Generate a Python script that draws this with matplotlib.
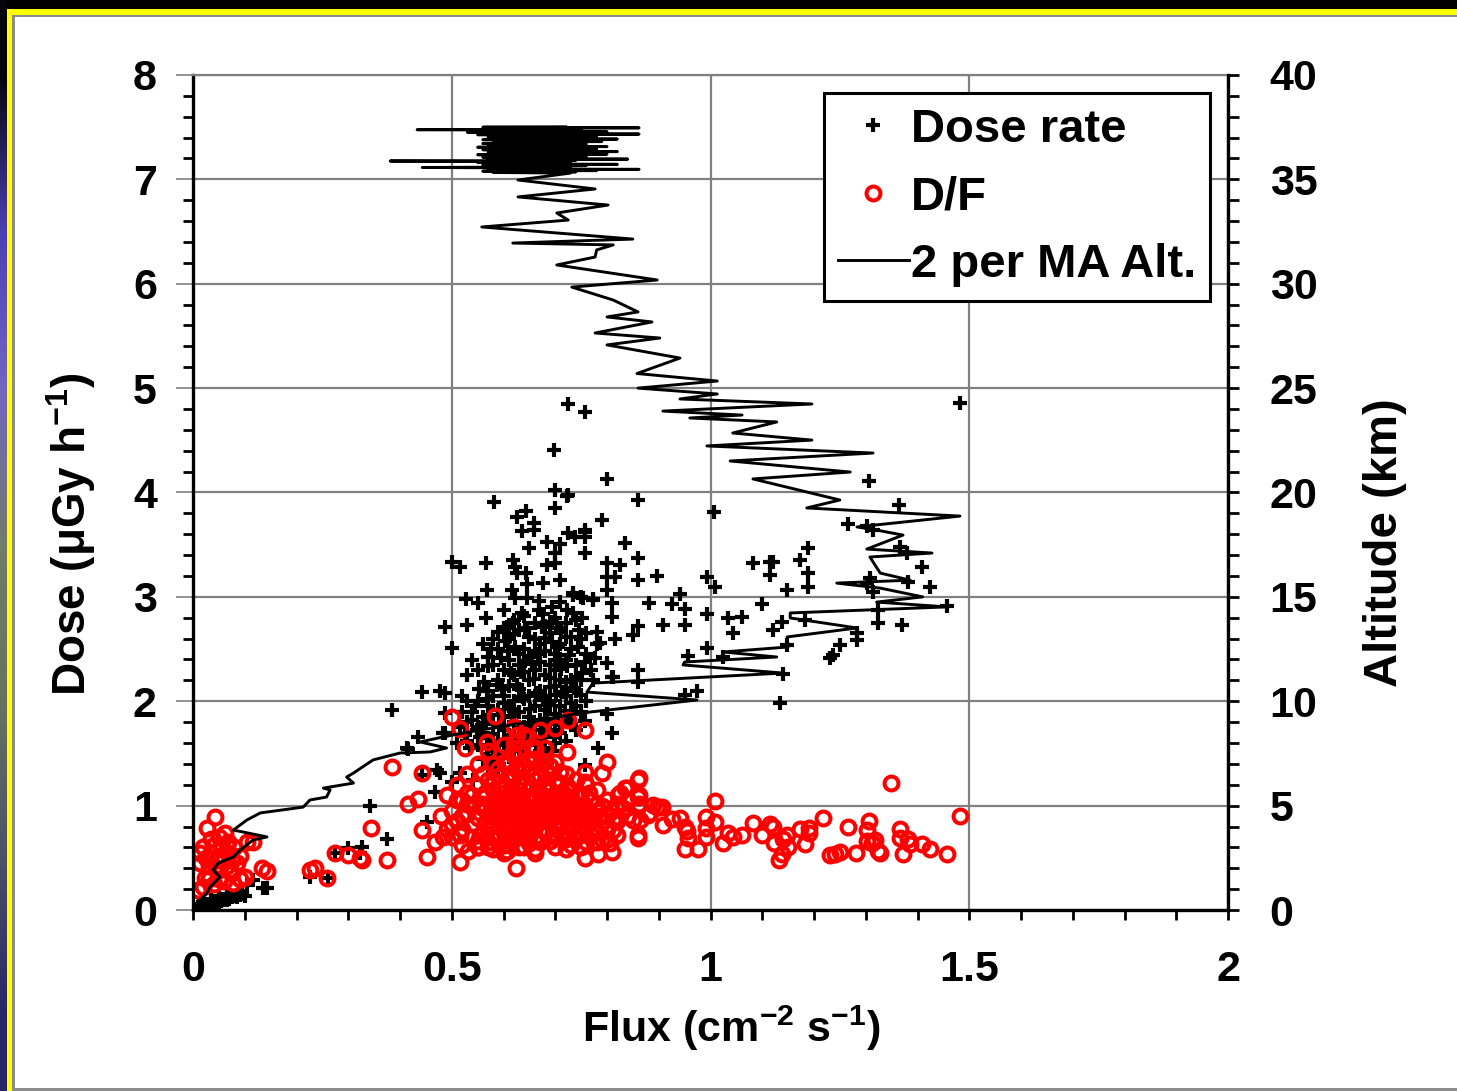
import matplotlib.pyplot as plt
import numpy as np
from matplotlib.patches import Rectangle

# ---- data ----
# dose rate (uGy/h) vs flux, near origin
dose_low = [(0.005, 0.01), (0.01, 0.02), (0.012, 0.04), (0.015, 0.03), (0.02, 0.03), (0.025, 0.05),
            (0.028, 0.06), (0.03, 0.05), (0.035, 0.06), (0.04, 0.07), (0.042, 0.09), (0.045, 0.08),
            (0.05, 0.08), (0.055, 0.09), (0.058, 0.11), (0.06, 0.10), (0.065, 0.10), (0.07, 0.11),
            (0.072, 0.14), (0.075, 0.12), (0.08, 0.13), (0.085, 0.12), (0.088, 0.16), (0.09, 0.14),
            (0.095, 0.15), (0.10, 0.13), (0.02, 0.08), (0.035, 0.10), (0.05, 0.13), (0.065, 0.15)]

# dose rate, main cluster
dose_cluster = [(0.53, 1.62), (0.55, 1.58), (0.56, 1.70), (0.57, 1.65), (0.58, 1.52), (0.58, 1.78),
                (0.59, 1.60), (0.60, 1.72), (0.60, 1.85), (0.61, 1.55), (0.61, 1.95), (0.62, 1.68),
                (0.62, 1.80), (0.63, 1.60), (0.63, 1.90), (0.64, 1.75), (0.64, 2.02), (0.65, 1.65),
                (0.65, 1.85), (0.66, 1.95), (0.66, 1.72), (0.67, 1.82), (0.67, 2.10), (0.68, 1.70),
                (0.68, 1.92), (0.69, 2.00), (0.69, 1.78), (0.70, 1.88), (0.70, 2.15), (0.71, 1.95),
                (0.71, 1.70), (0.72, 2.05), (0.72, 1.85), (0.73, 2.20), (0.73, 1.98), (0.74, 2.10),
                (0.54, 1.90), (0.55, 2.00), (0.56, 1.85), (0.57, 2.10), (0.57, 1.95), (0.58, 2.05),
                (0.59, 2.20), (0.59, 1.92), (0.60, 2.30), (0.60, 2.05), (0.61, 2.15), (0.61, 2.40),
                (0.62, 2.25), (0.62, 2.00), (0.63, 2.35), (0.63, 2.12), (0.64, 2.28), (0.64, 2.50),
                (0.65, 2.20), (0.65, 2.42), (0.66, 2.30), (0.66, 2.60), (0.67, 2.38), (0.67, 2.55),
                (0.68, 2.25), (0.68, 2.48), (0.69, 2.35), (0.69, 2.65), (0.70, 2.45), (0.70, 2.30),
                (0.71, 2.55), (0.71, 2.20), (0.72, 2.40), (0.72, 2.62), (0.73, 2.50), (0.74, 2.35),
                (0.75, 2.60), (0.75, 2.20), (0.76, 2.45), (0.53, 2.25), (0.54, 2.40), (0.55, 2.30),
                (0.56, 2.55), (0.57, 2.42), (0.58, 2.60), (0.59, 2.50), (0.60, 2.70), (0.61, 2.62),
                (0.62, 2.78), (0.63, 2.68), (0.64, 2.82), (0.66, 2.75), (0.68, 2.72), (0.70, 2.80),
                (0.72, 2.75), (0.74, 2.78), (0.52, 2.05), (0.53, 1.80), (0.56, 1.45), (0.57, 1.38),
                (0.58, 1.30), (0.59, 1.45), (0.60, 1.35), (0.61, 1.48), (0.62, 1.42), (0.64, 1.50),
                (0.66, 1.48), (0.68, 1.55), (0.70, 1.60), (0.72, 1.62), (0.74, 1.72), (0.75, 1.90),
                (0.76, 2.00), (0.77, 2.30), (0.78, 2.55), (0.55, 1.75), (0.63, 2.45), (0.65, 2.05),
                (0.67, 1.62), (0.69, 2.22), (0.71, 2.38), (0.73, 1.78), (0.58, 2.35), (0.60, 1.98),
                (0.62, 1.55), (0.65, 2.62), (0.68, 2.05), (0.70, 1.72), (0.74, 1.95), (0.76, 2.65),
                (0.555, 1.66), (0.566, 1.79), (0.574, 1.87), (0.587, 2.16), (0.596, 2.41), (0.603, 1.63),
                (0.614, 2.27), (0.622, 2.52), (0.633, 1.74), (0.641, 2.39), (0.652, 1.93), (0.659, 2.21),
                (0.667, 2.45), (0.676, 2.01), (0.684, 1.83), (0.693, 2.57), (0.702, 2.06), (0.711, 2.31),
                (0.718, 1.91), (0.727, 2.44), (0.736, 2.13), (0.744, 2.52), (0.751, 2.27), (0.758, 1.81),
                (0.562, 2.18), (0.571, 2.34), (0.579, 1.69), (0.591, 1.77), (0.598, 2.12), (0.609, 2.48),
                (0.617, 1.86), (0.626, 2.16), (0.637, 2.04), (0.646, 1.69), (0.655, 2.36), (0.663, 2.08),
                (0.672, 1.77), (0.681, 2.61), (0.689, 2.14), (0.698, 1.66), (0.706, 2.52), (0.714, 2.09),
                (0.723, 2.34), (0.732, 1.88), (0.741, 2.23), (0.749, 2.06), (0.757, 2.38), (0.548, 1.72),
                (0.552, 2.12), (0.568, 1.56), (0.583, 1.42), (0.592, 1.58), (0.605, 1.50), (0.618, 1.62),
                (0.631, 1.52), (0.648, 1.61), (0.662, 1.58), (0.678, 1.66), (0.694, 1.52), (0.708, 1.82),
                (0.72, 2.18), (0.73, 2.62), (0.745, 2.68), (0.603, 2.58), (0.621, 2.64), (0.642, 2.70),
                (0.661, 2.48), (0.677, 2.84), (0.694, 2.76), (0.712, 2.66), (0.576, 2.50), (0.589, 2.66),
                (0.569, 2.02), (0.634, 2.28), (0.687, 1.96), (0.703, 2.40), (0.653, 1.78), (0.613, 1.93),
                (0.57, 1.48), (0.58, 1.62), (0.51, 1.60), (0.515, 1.75), (0.52, 1.90), (0.525, 1.68),
                (0.535, 1.55), (0.54, 1.82), (0.545, 1.95), (0.53, 2.00)]

# dose rate, scattered points
dose_sparse = [(0.725, 4.85), (0.757, 4.77), (1.482, 4.86), (0.80, 4.13), (1.306, 4.11), (0.723, 3.97),
               (0.86, 3.93), (1.007, 3.81), (1.364, 3.88), (1.266, 3.70), (1.302, 3.68), (1.314, 3.64),
               (0.79, 3.74), (0.725, 3.61), (0.738, 3.57), (0.757, 3.64), (0.757, 3.57), (0.757, 3.42),
               (0.835, 3.52), (0.86, 3.37), (0.80, 3.32), (0.825, 3.31), (0.80, 3.19), (0.815, 3.19),
               (0.86, 3.16), (0.897, 3.20), (0.993, 3.19), (1.009, 3.09), (1.082, 3.32), (1.115, 3.33),
               (1.121, 3.33), (1.115, 3.21), (1.173, 3.35), (1.188, 3.47), (1.188, 3.23), (1.188, 3.09),
               (1.148, 3.07), (1.409, 3.29), (1.424, 3.09), (1.302, 3.13), (1.308, 3.18), (1.314, 3.05),
               (1.366, 3.48), (1.38, 3.42), (1.382, 3.14), (1.457, 2.91), (1.324, 2.87), (1.324, 2.75),
               (1.37, 2.73), (0.80, 3.07), (0.734, 3.02), (0.754, 2.99), (0.773, 2.97), (0.81, 2.94),
               (0.881, 2.94), (0.926, 2.93), (0.941, 3.03), (0.951, 2.88), (0.993, 2.84), (1.10, 2.93),
               (0.81, 2.81), (0.86, 2.72), (0.908, 2.73), (0.951, 2.73), (1.034, 2.80), (1.061, 2.81),
               (1.043, 2.65), (1.138, 2.76), (1.121, 2.68), (1.183, 2.78), (1.283, 2.65), (1.283, 2.59),
               (1.25, 2.54), (1.237, 2.44), (1.231, 2.41), (1.148, 2.54), (0.85, 2.63), (0.815, 2.60),
               (0.993, 2.51), (0.957, 2.43), (1.024, 2.42), (1.14, 2.26), (0.86, 2.30), (0.86, 2.18),
               (0.81, 2.23), (0.773, 2.20), (0.974, 2.10), (0.951, 2.06), (1.134, 1.98), (0.80, 1.88),
               (0.698, 4.41), (0.70, 4.02), (0.725, 3.98), (0.582, 3.91), (0.70, 3.85), (0.626, 3.77),
               (0.643, 3.82), (0.659, 3.71), (0.659, 3.64), (0.636, 3.63), (0.684, 3.53), (0.709, 3.51),
               (0.649, 3.47), (0.70, 3.42), (0.757, 3.62), (0.50, 3.33), (0.516, 3.29), (0.566, 3.32),
               (0.618, 3.35), (0.622, 3.29), (0.684, 3.31), (0.70, 3.32), (0.643, 3.23), (0.626, 3.23),
               (0.676, 3.13), (0.645, 3.12), (0.709, 3.16), (0.568, 3.07), (0.616, 3.07), (0.527, 2.98),
               (0.551, 2.94), (0.622, 2.99), (0.645, 2.99), (0.669, 2.96), (0.669, 2.87), (0.709, 2.95),
               (0.693, 2.90), (0.734, 3.04), (0.75, 3.00), (0.773, 2.98), (0.601, 2.87), (0.636, 2.85),
               (0.566, 2.80), (0.529, 2.73), (0.486, 2.71), (0.50, 2.51), (0.442, 2.09), (0.477, 2.10),
               (0.607, 2.71), (0.618, 2.75), (0.645, 2.70), (0.674, 2.71), (0.703, 2.70), (0.723, 2.87),
               (0.734, 2.85), (0.751, 2.80), (0.781, 2.66), (0.786, 2.56), (0.777, 2.41), (0.80, 2.37),
               (0.812, 2.23), (0.734, 1.89), (0.809, 1.70), (0.783, 1.55), (0.435, 1.66), (0.483, 1.70),
               (0.413, 1.55), (0.385, 1.92), (0.416, 1.54), (0.487, 1.89), (0.487, 1.70), (0.472, 1.34),
               (0.477, 1.31), (0.442, 1.29), (0.468, 1.13), (0.516, 1.31), (0.342, 1.00), (0.452, 0.84),
               (0.374, 0.68), (0.30, 0.59), (0.327, 0.60), (0.274, 0.55), (0.757, 1.39), (0.723, 1.85),
               (0.487, 2.08), (0.50, 1.23), (0.541, 1.25), (0.661, 1.36), (0.226, 0.32), (0.261, 0.31),
               (0.323, 0.55), (0.116, 0.29), (0.135, 0.21), (0.143, 0.21), (0.104, 0.24)]

# D/F ratio, near origin
df_low = [(0.043, 0.89), (0.027, 0.79), (0.014, 0.55), (0.014, 0.45), (0.01, 0.19), (0.023, 0.31),
          (0.062, 0.74), (0.068, 0.65), (0.104, 0.65), (0.116, 0.65), (0.10, 0.32), (0.078, 0.26),
          (0.133, 0.40), (0.143, 0.37), (0.02, 0.60), (0.025, 0.50), (0.03, 0.42), (0.035, 0.55),
          (0.04, 0.62), (0.045, 0.48), (0.05, 0.38), (0.055, 0.58), (0.06, 0.50), (0.065, 0.42),
          (0.07, 0.55), (0.075, 0.35), (0.08, 0.60), (0.085, 0.45), (0.09, 0.52), (0.03, 0.30),
          (0.04, 0.25), (0.05, 0.30), (0.06, 0.28), (0.035, 0.68), (0.05, 0.70), (0.09, 0.30),
          (0.02, 0.22), (0.065, 0.62), (0.075, 0.48), (0.045, 0.40)]

# D/F ratio, main cluster
df_cluster = [(0.50, 0.95), (0.51, 0.85), (0.52, 1.05), (0.52, 0.78), (0.53, 0.92), (0.53, 1.12),
              (0.54, 0.70), (0.54, 1.00), (0.55, 0.88), (0.55, 1.20), (0.56, 0.75), (0.56, 0.98),
              (0.56, 1.08), (0.57, 0.65), (0.57, 0.90), (0.57, 1.25), (0.58, 0.82), (0.58, 1.00),
              (0.58, 1.15), (0.59, 0.72), (0.59, 0.95), (0.59, 1.35), (0.60, 0.62), (0.60, 0.85),
              (0.60, 1.05), (0.60, 1.20), (0.61, 0.78), (0.61, 0.92), (0.61, 1.10), (0.61, 1.42),
              (0.62, 0.68), (0.62, 0.88), (0.62, 1.00), (0.62, 1.28), (0.63, 0.75), (0.63, 0.95),
              (0.63, 1.15), (0.63, 1.50), (0.64, 0.82), (0.64, 1.02), (0.64, 1.20), (0.64, 0.60),
              (0.65, 0.90), (0.65, 1.08), (0.65, 1.35), (0.65, 0.70), (0.66, 0.80), (0.66, 0.98),
              (0.66, 1.25), (0.67, 0.65), (0.67, 0.88), (0.67, 1.05), (0.67, 1.40), (0.68, 0.75),
              (0.68, 0.95), (0.68, 1.18), (0.69, 0.85), (0.69, 1.00), (0.69, 1.30), (0.70, 0.70),
              (0.70, 0.92), (0.70, 1.10), (0.71, 0.80), (0.71, 1.00), (0.71, 1.22), (0.72, 0.68),
              (0.72, 0.90), (0.72, 1.05), (0.73, 0.78), (0.73, 0.95), (0.73, 1.15), (0.74, 0.85),
              (0.74, 1.02), (0.75, 0.72), (0.75, 0.92), (0.75, 1.10), (0.76, 0.80), (0.76, 0.98),
              (0.77, 0.88), (0.77, 1.05), (0.78, 0.75), (0.78, 0.95), (0.79, 0.85), (0.79, 1.00),
              (0.80, 0.90), (0.80, 0.78), (0.81, 0.95), (0.82, 0.85), (0.83, 0.98), (0.84, 0.90),
              (0.58, 0.90), (0.59, 1.05), (0.60, 0.95), (0.61, 1.00), (0.62, 0.92), (0.63, 0.85),
              (0.63, 1.05), (0.64, 0.92), (0.65, 0.98), (0.66, 0.90), (0.66, 1.08), (0.67, 0.95),
              (0.68, 0.85), (0.68, 1.05), (0.69, 0.92), (0.70, 1.00), (0.71, 0.90), (0.72, 0.98),
              (0.73, 0.88), (0.74, 0.95), (0.62, 1.60), (0.64, 1.68), (0.66, 1.45), (0.68, 1.55),
              (0.60, 1.58), (0.70, 1.42), (0.72, 1.30), (0.55, 1.40), (0.57, 1.52), (0.53, 1.30),
              (0.51, 1.20), (0.49, 1.10), (0.48, 0.90), (0.49, 0.78), (0.50, 0.70), (0.52, 0.62),
              (0.55, 0.60), (0.58, 0.58), (0.60, 0.55), (0.63, 0.60), (0.66, 0.58), (0.70, 0.60),
              (0.73, 0.62), (0.76, 0.65), (0.79, 0.68), (0.62, 1.75), (0.67, 1.72),
              (0.555, 0.72), (0.565, 0.83), (0.575, 0.97), (0.585, 1.08), (0.595, 0.80), (0.605, 0.90),
              (0.615, 1.18), (0.625, 0.82), (0.635, 1.10), (0.645, 0.72), (0.655, 0.86), (0.665, 1.15),
              (0.675, 0.78), (0.685, 1.08), (0.695, 0.74), (0.705, 0.84), (0.715, 1.12), (0.725, 0.83),
              (0.735, 1.02), (0.745, 0.76), (0.755, 0.86), (0.765, 1.12), (0.775, 0.80), (0.785, 0.90),
              (0.56, 1.02), (0.57, 0.78), (0.58, 1.25), (0.59, 0.86), (0.60, 1.12), (0.61, 0.68),
              (0.62, 1.08), (0.63, 1.22), (0.64, 0.76), (0.65, 1.18), (0.66, 0.70), (0.67, 1.12),
              (0.68, 0.90), (0.69, 1.15), (0.70, 0.80), (0.71, 1.05), (0.72, 0.76), (0.73, 1.08),
              (0.74, 0.70), (0.75, 1.00), (0.76, 0.88), (0.77, 0.72), (0.78, 1.02), (0.565, 1.12),
              (0.575, 0.70), (0.585, 0.92), (0.595, 1.18), (0.605, 0.76), (0.615, 0.96), (0.625, 1.35),
              (0.635, 0.70), (0.645, 0.98), (0.655, 1.28), (0.665, 0.84), (0.675, 1.00), (0.685, 1.22),
              (0.695, 0.90), (0.705, 1.20), (0.715, 0.72), (0.725, 1.18), (0.735, 0.92), (0.745, 1.12),
              (0.755, 0.78), (0.765, 0.94), (0.59, 1.28), (0.61, 1.30), (0.63, 1.32), (0.65, 1.45),
              (0.67, 1.28), (0.69, 1.38), (0.71, 1.32), (0.60, 1.42), (0.64, 1.38), (0.68, 1.42),
              (0.62, 1.48), (0.66, 1.55), (0.70, 1.25), (0.74, 1.25), (0.76, 1.20), (0.78, 1.15),
              (0.80, 1.05), (0.82, 1.02), (0.84, 1.05), (0.80, 0.68), (0.82, 0.72), (0.78, 0.65),
              (0.57, 0.60), (0.61, 0.62), (0.65, 0.64), (0.69, 0.66), (0.72, 0.58), (0.75, 0.60),
              (0.54, 0.82), (0.53, 1.02), (0.52, 0.90), (0.51, 1.05), (0.50, 0.82), (0.54, 1.10),
              (0.56, 1.30), (0.58, 1.40), (0.55, 0.66), (0.515, 0.72)]

# D/F ratio, scattered points
df_sparse = [(0.226, 0.38), (0.236, 0.40), (0.259, 0.31), (0.274, 0.55), (0.30, 0.53), (0.327, 0.48),
             (0.323, 0.50), (0.344, 0.79), (0.374, 0.48), (0.384, 1.37), (0.442, 1.31), (0.416, 1.02),
             (0.435, 1.06), (0.442, 0.77), (0.452, 0.51), (0.516, 0.46), (0.624, 0.40), (0.50, 1.85),
             (0.516, 1.73), (0.584, 1.86), (0.526, 1.55), (0.568, 1.61), (0.70, 1.74), (0.725, 1.82),
             (0.757, 1.72), (0.723, 1.51), (0.626, 1.68), (0.645, 1.65), (0.661, 1.53), (0.618, 1.51),
             (0.80, 1.42), (0.79, 1.31), (0.757, 1.32), (0.757, 1.23), (0.86, 1.25), (0.839, 1.17),
             (0.825, 1.12), (0.86, 1.08), (0.86, 1.00), (0.897, 0.99), (0.906, 0.99), (0.883, 0.93),
             (1.009, 1.04), (0.85, 0.86), (0.864, 0.86), (0.86, 0.72), (0.86, 0.69), (0.908, 0.81),
             (0.926, 0.87), (0.941, 0.88), (0.951, 0.80), (0.954, 0.76), (0.957, 0.69), (0.951, 0.58),
             (0.976, 0.58), (0.991, 0.89), (0.991, 0.79), (0.991, 0.70), (1.009, 0.84), (1.024, 0.64),
             (1.034, 0.74), (1.043, 0.70), (1.061, 0.72), (1.082, 0.83), (1.10, 0.72), (1.115, 0.82),
             (1.121, 0.80), (1.123, 0.64), (1.14, 0.68), (1.148, 0.72), (1.15, 0.60), (1.132, 0.48),
             (1.138, 0.54), (1.173, 0.78), (1.183, 0.63), (1.19, 0.79), (1.19, 0.74), (1.217, 0.88),
             (1.266, 0.80), (1.231, 0.53), (1.241, 0.54), (1.25, 0.56), (1.281, 0.55), (1.306, 0.85),
             (1.302, 0.77), (1.302, 0.66), (1.312, 0.64), (1.318, 0.67), (1.324, 0.57), (1.328, 0.55),
             (1.349, 1.22), (1.366, 0.78), (1.366, 0.69), (1.382, 0.68), (1.386, 0.63), (1.372, 0.54),
             (1.409, 0.63), (1.424, 0.58), (1.457, 0.54), (1.482, 0.90), (0.757, 0.50), (0.783, 0.54),
             (0.809, 0.56), (0.806, 0.64), (0.661, 0.55), (0.607, 0.57), (0.531, 0.57), (0.551, 0.60),
             (0.468, 0.65), (0.483, 0.70), (0.812, 0.86), (0.812, 0.77), (0.862, 1.26), (0.835, 1.17),
             (0.822, 1.10), (0.862, 1.10), (0.862, 1.02), (0.889, 1.01), (0.899, 0.99), (0.88, 0.91)]

# 2-point moving average of flux vs altitude (km), ascent then float
alt_ascent = [(0.004, 0.0), (0.014, 0.48), (0.027, 0.81), (0.033, 1.10), (0.052, 1.58), (0.039, 1.92),
              (0.049, 2.25), (0.078, 2.54), (0.091, 2.87), (0.116, 3.35), (0.143, 3.50), (0.078, 3.83),
              (0.104, 4.31), (0.13, 4.65), (0.213, 4.93), (0.226, 5.27), (0.258, 5.41), (0.265, 5.75),
              (0.252, 5.84), (0.31, 6.08), (0.297, 6.37), (0.31, 6.56), (0.348, 7.19), (0.40, 7.52),
              (0.458, 7.57), (0.49, 7.76), (0.439, 8.05), (0.483, 8.29), (0.522, 8.48), (0.60, 8.80),
              (0.748, 9.43), (0.974, 10.06), (0.761, 10.44), (0.773, 10.87), (1.14, 11.35), (0.947, 11.74),
              (0.95, 11.88), (1.128, 12.12), (1.024, 12.36), (1.15, 12.60), (1.148, 13.08), (1.283, 13.51),
              (1.154, 13.99), (1.154, 14.23), (1.457, 14.52), (1.321, 14.75), (1.41, 15.0), (1.328, 15.42),
              (1.244, 15.66), (1.386, 15.80), (1.328, 16.14), (1.308, 16.91), (1.428, 17.10), (1.302, 17.29),
              (1.372, 17.96), (1.321, 18.20), (1.283, 18.35), (1.482, 18.87), (1.186, 19.26), (1.25, 19.64),
              (1.082, 20.65), (1.27, 20.98), (1.038, 21.51), (1.314, 21.89), (0.993, 22.23), (1.196, 22.51),
              (1.043, 22.85), (1.128, 23.38), (0.96, 23.57), (1.061, 23.71), (0.908, 23.90), (1.196, 24.24),
              (0.941, 24.48), (1.013, 24.72), (0.86, 25.0), (1.013, 25.34), (0.858, 25.70), (0.941, 26.44),
              (0.80, 27.07), (0.902, 27.40), (0.777, 27.64), (0.887, 28.17), (0.80, 28.41), (0.86, 28.65),
              (0.812, 29.22), (0.732, 29.84), (0.897, 30.18), (0.703, 30.90), (0.777, 31.28), (0.78, 31.62),
              (0.812, 31.86), (0.618, 31.95), (0.85, 32.14), (0.558, 32.72), (0.725, 33.05), (0.703, 33.39),
              (0.802, 33.77), (0.628, 34.16), (0.777, 34.54), (0.676, 34.83), (0.628, 34.97)]

alt_float = [(0.729, 35.30), (0.58, 35.33), (0.74, 35.36), (0.56, 35.39), (0.78, 35.42), (0.60, 35.45),
             (0.862, 35.48), (0.57, 35.51), (0.72, 35.54), (0.443, 35.57), (0.73, 35.60), (0.58, 35.63),
             (0.76, 35.66), (0.56, 35.69), (0.82, 35.72), (0.60, 35.75), (0.73, 35.78), (0.55, 35.81),
             (0.70, 35.84), (0.381, 35.88), (0.74, 35.91), (0.57, 35.94), (0.84, 35.97), (0.58, 36.00),
             (0.73, 36.03), (0.56, 36.06), (0.76, 36.09), (0.60, 36.12), (0.72, 36.15), (0.55, 36.18),
             (0.80, 36.21), (0.58, 36.24), (0.74, 36.27), (0.57, 36.30), (0.82, 36.33), (0.60, 36.36),
             (0.73, 36.39), (0.56, 36.42), (0.78, 36.45), (0.58, 36.48), (0.74, 36.51), (0.55, 36.54),
             (0.80, 36.57), (0.60, 36.60), (0.72, 36.63), (0.57, 36.66), (0.76, 36.69), (0.56, 36.72),
             (0.74, 36.75), (0.58, 36.78), (0.79, 36.81), (0.60, 36.84), (0.73, 36.87), (0.56, 36.90),
             (0.82, 36.93), (0.58, 36.96), (0.74, 36.99), (0.57, 37.02), (0.78, 37.05), (0.60, 37.08),
             (0.73, 37.11), (0.55, 37.14), (0.862, 37.17), (0.58, 37.20), (0.74, 37.23), (0.53, 37.26),
             (0.80, 37.29), (0.58, 37.32), (0.72, 37.35), (0.433, 37.38), (0.75, 37.41), (0.60, 37.44),
             (0.862, 37.47), (0.56, 37.50), (0.72, 37.52)]

x_ticks = [0, 0.5, 1, 1.5, 2]
x_tick_labels = ["0", "0.5", "1", "1.5", "2"]
dose_ticks = [0, 1, 2, 3, 4, 5, 6, 7, 8]
alt_ticks = [0, 5, 10, 15, 20, 25, 30, 35, 40]

# ---- style ----
plt.rcParams['font.family'] = ['Liberation Sans', 'DejaVu Sans']
plt.rcParams['font.weight'] = 'bold'
plt.rcParams['axes.labelweight'] = 'bold'
plt.rcParams['mathtext.fontset'] = 'custom'
plt.rcParams['mathtext.rm'] = 'Liberation Sans:bold'
plt.rcParams['mathtext.it'] = 'Liberation Sans:bold'
plt.rcParams['mathtext.bf'] = 'Liberation Sans:bold'
plt.rcParams['mathtext.default'] = 'rm'

W, H = 1457, 1091
fig = plt.figure(figsize=(W / 100, H / 100), dpi=100, facecolor='black')

# slide background: landscape strip, yellow frame, white panel
bg = fig.add_axes([0, 0, 1, 1])
bg.set_xlim(0, W)
bg.set_ylim(H, 0)
bg.axis('off')
strip = np.array([[0.02, 0.02, 0.05], [0.30, 0.25, 0.70], [0.45, 0.40, 0.75], [0.45, 0.48, 0.42],
                  [0.40, 0.45, 0.38], [0.30, 0.32, 0.40], [0.15, 0.15, 0.40]])
bg.imshow(strip[:, None, :], extent=(0, 7, H, 0), aspect='auto', interpolation='bilinear')
bg.add_patch(Rectangle((7, 9), W, 6, color='#ffff00', lw=0))
bg.add_patch(Rectangle((7, 9), 5, H, color='#ffff00', lw=0))
bg.add_patch(Rectangle((12, 15), W, H - 15, color='#8c8c8c', lw=0))
bg.add_patch(Rectangle((15, 17), W, H - 20, color='white', lw=0))

ax = fig.add_axes([193 / W, (H - 910) / H, 1035 / W, 835 / H])
ax.set_facecolor('white')

dl = np.array(dose_low + dose_cluster + dose_sparse)
dfa = np.array(df_low + df_cluster + df_sparse)
al = np.array(alt_ascent + alt_float)

h1, = ax.plot(dl[:, 0], dl[:, 1], ls='none', marker='+', ms=10.5, mew=3.0, color='black', label='Dose rate')
h2, = ax.plot(dfa[:, 0], dfa[:, 1], ls='none', marker='o', ms=10, mew=2.9, mfc='none', mec='#ff0000',
              label='D/F')

ax.set_xlim(0, 2)
ax.set_ylim(0, 8)
ax.set_xticks(x_ticks)
ax.set_xticklabels(x_tick_labels)
ax.set_xticks(np.arange(0, 2.01, 0.1), minor=True)
ax.set_yticks(dose_ticks)
ax.set_yticks(np.arange(0, 8.01, 0.2), minor=True)
ax.grid(True, which='major', color='#808080', lw=1.6)
ax.set_axisbelow(True)
ax.tick_params(axis='x', which='both', direction='out', length=7, width=2, color='black',
               labelsize=31, pad=22)
ax.tick_params(axis='y', which='major', direction='out', length=12, width=1.2, color='#808080',
               labelsize=31, pad=14)
ax.tick_params(axis='y', which='minor', direction='out', length=7, width=2, color='black')
for side in ['left', 'bottom']:
    ax.spines[side].set_linewidth(2.4)
ax.spines['top'].set_color('#808080')
ax.spines['top'].set_linewidth(1.6)
ax.spines['right'].set_visible(False)
ax.set_xlabel(r"Flux (cm$^{-2}$ s$^{-1}$)", fontsize=31, labelpad=10)
ax.xaxis.set_label_coords(0.52, -0.112)
ax.set_ylabel(r"Dose ($\mu$Gy h$^{-1}$)", fontsize=33)
ax.yaxis.set_label_coords(-0.092, 0.45)

ax2 = ax.twinx()
h3, = ax2.plot(al[:, 0], al[:, 1], color='black', lw=2.1, label='2 per MA Alt.')
ax2.set_ylim(0, 40)
ax2.set_yticks(alt_ticks)
ax2.set_yticks(np.arange(0, 40.1, 1), minor=True)
ax2.tick_params(axis='y', which='both', direction='out', length=8, width=2, color='black',
                labelsize=31, pad=22)
ax2.spines['right'].set_linewidth(2.4)
ax2.spines['top'].set_visible(False)
ax2.spines['left'].set_visible(False)
ax2.spines['bottom'].set_visible(False)
ax2.set_ylabel("Altitude (km)", fontsize=34)
ax2.yaxis.set_label_coords(1.13, 0.44)

leg = ax2.legend(handles=[h1, h2, h3], loc='upper right', bbox_to_anchor=(0.983, 0.978),
                 borderaxespad=0, fontsize=34, frameon=True, fancybox=False, framealpha=1,
                 edgecolor='black', handlelength=1.5, handletextpad=0.05, labelspacing=0.5,
                 borderpad=0.3)
leg.get_frame().set_linewidth(2.2)

fig.savefig('out.png', dpi=100, facecolor=fig.get_facecolor())
